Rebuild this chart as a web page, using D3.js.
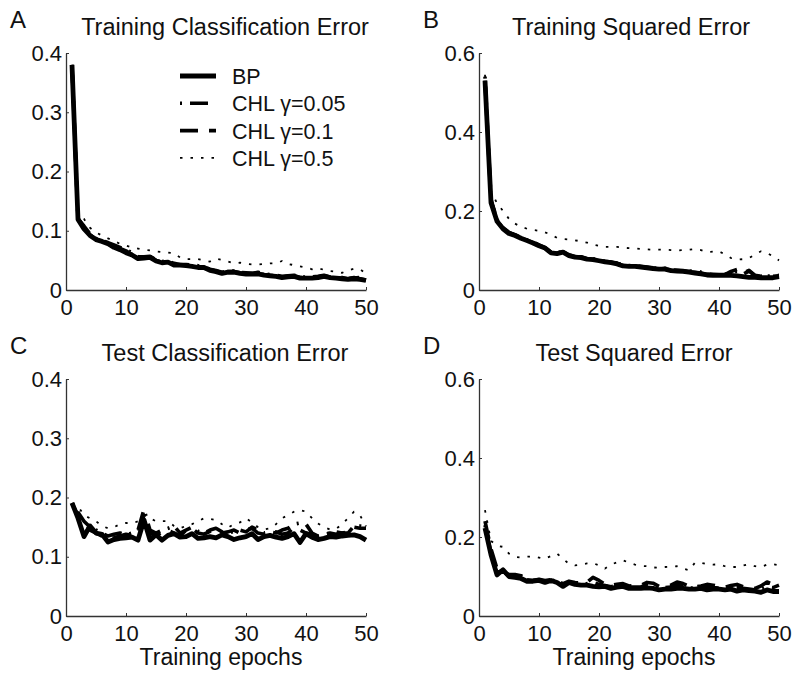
<!DOCTYPE html>
<html>
<head>
<meta charset="utf-8">
<script src="https://cdn.jsdelivr.net/npm/d3@7"></script>
<style>
body { margin: 0; background: #fff; }
svg text { font-family: "Liberation Sans", Arial, sans-serif; fill: #111; }
</style>
</head>
<body>
<svg id="chart" width="793" height="673"></svg>
<script>
let epochs = d3.range(1, 51)
let seriesNames = ["BP", "CHL γ=0.05", "CHL γ=0.1", "CHL γ=0.5"]
let xTicks = [0, 10, 20, 30, 40, 50]
let yTicksCls = [0, 0.1, 0.2, 0.3, 0.4]
let yTicksSq = [0, 0.2, 0.4, 0.6]

// A - training classification error
let trainClsBP = [0.38, 0.119, 0.103, 0.092, 0.085, 0.082, 0.078, 0.072, 0.068, 0.063,
    0.059, 0.053, 0.054, 0.055, 0.049, 0.046, 0.047, 0.042, 0.042, 0.041,
    0.040, 0.038, 0.038, 0.033, 0.031, 0.028, 0.030, 0.030, 0.028, 0.027,
    0.027, 0.027, 0.025, 0.024, 0.023, 0.021, 0.022, 0.023, 0.020, 0.020,
    0.020, 0.021, 0.023, 0.021, 0.020, 0.019, 0.018, 0.019, 0.018, 0.016]
let trainClsG05 = [0.38, 0.120, 0.108, 0.095, 0.087, 0.083, 0.080, 0.076, 0.072, 0.068,
    0.063, 0.056, 0.056, 0.057, 0.051, 0.048, 0.049, 0.045, 0.043, 0.043,
    0.042, 0.041, 0.039, 0.035, 0.033, 0.030, 0.032, 0.032, 0.030, 0.029,
    0.028, 0.030, 0.027, 0.026, 0.025, 0.023, 0.024, 0.025, 0.022, 0.022,
    0.022, 0.023, 0.025, 0.022, 0.021, 0.020, 0.019, 0.021, 0.019, 0.017]
let trainClsG01 = [0.38, 0.121, 0.106, 0.093, 0.086, 0.082, 0.079, 0.074, 0.070, 0.066,
    0.060, 0.055, 0.055, 0.056, 0.050, 0.047, 0.048, 0.043, 0.042, 0.042,
    0.041, 0.039, 0.038, 0.034, 0.032, 0.029, 0.031, 0.031, 0.029, 0.028,
    0.028, 0.028, 0.026, 0.025, 0.024, 0.022, 0.023, 0.024, 0.021, 0.021,
    0.021, 0.022, 0.024, 0.021, 0.020, 0.021, 0.019, 0.020, 0.021, 0.016]
let trainClsG5 = [0.38, 0.125, 0.120, 0.105, 0.097, 0.092, 0.087, 0.083, 0.078, 0.075,
    0.072, 0.070, 0.068, 0.067, 0.065, 0.064, 0.063, 0.062, 0.055, 0.052,
    0.052, 0.052, 0.050, 0.048, 0.053, 0.051, 0.048, 0.045, 0.046, 0.044,
    0.043, 0.043, 0.044, 0.045, 0.045, 0.049, 0.044, 0.042, 0.040, 0.038,
    0.035, 0.037, 0.034, 0.032, 0.031, 0.029, 0.033, 0.036, 0.035, 0.028]

// B - training squared error
let trainSqBP = [0.53, 0.221, 0.174, 0.155, 0.143, 0.138, 0.131, 0.125, 0.119, 0.112,
    0.106, 0.094, 0.092, 0.096, 0.087, 0.083, 0.082, 0.078, 0.077, 0.074,
    0.071, 0.069, 0.066, 0.061, 0.060, 0.060, 0.058, 0.056, 0.054, 0.053,
    0.053, 0.049, 0.048, 0.047, 0.045, 0.043, 0.041, 0.038, 0.037, 0.037,
    0.037, 0.037, 0.036, 0.034, 0.032, 0.032, 0.031, 0.031, 0.031, 0.034]
let trainSqG05 = [0.54, 0.230, 0.178, 0.158, 0.146, 0.140, 0.133, 0.127, 0.121, 0.114,
    0.108, 0.096, 0.094, 0.098, 0.089, 0.085, 0.084, 0.080, 0.079, 0.076,
    0.073, 0.071, 0.068, 0.063, 0.062, 0.062, 0.060, 0.058, 0.056, 0.055,
    0.055, 0.051, 0.050, 0.049, 0.047, 0.050, 0.045, 0.041, 0.040, 0.039,
    0.040, 0.044, 0.047, 0.040, 0.048, 0.036, 0.034, 0.035, 0.036, 0.037]
let trainSqG01 = [0.53, 0.225, 0.176, 0.156, 0.145, 0.139, 0.132, 0.126, 0.120, 0.113,
    0.107, 0.095, 0.093, 0.097, 0.088, 0.084, 0.083, 0.079, 0.078, 0.075,
    0.072, 0.070, 0.067, 0.062, 0.061, 0.061, 0.059, 0.057, 0.055, 0.054,
    0.054, 0.050, 0.049, 0.048, 0.046, 0.045, 0.043, 0.040, 0.039, 0.038,
    0.039, 0.047, 0.052, 0.042, 0.050, 0.037, 0.035, 0.036, 0.035, 0.036]
let trainSqG5 = [0.545, 0.250, 0.220, 0.200, 0.180, 0.168, 0.160, 0.155, 0.152, 0.150,
    0.146, 0.140, 0.132, 0.129, 0.128, 0.126, 0.123, 0.120, 0.115, 0.112,
    0.109, 0.109, 0.109, 0.107, 0.106, 0.105, 0.104, 0.103, 0.102, 0.102,
    0.102, 0.101, 0.100, 0.101, 0.102, 0.104, 0.101, 0.096, 0.097, 0.098,
    0.090, 0.081, 0.077, 0.078, 0.081, 0.090, 0.098, 0.094, 0.085, 0.075]

// C - test classification error
let testClsBP = [0.191, 0.165, 0.134, 0.152, 0.140, 0.138, 0.125, 0.129, 0.131, 0.132,
    0.133, 0.128, 0.162, 0.128, 0.137, 0.128, 0.136, 0.139, 0.133, 0.134,
    0.139, 0.131, 0.132, 0.134, 0.132, 0.137, 0.134, 0.129, 0.132, 0.134,
    0.139, 0.129, 0.134, 0.136, 0.133, 0.131, 0.134, 0.139, 0.124, 0.139,
    0.133, 0.129, 0.131, 0.134, 0.133, 0.135, 0.136, 0.137, 0.134, 0.128]
let testClsG05 = [0.19, 0.175, 0.160, 0.150, 0.145, 0.140, 0.135, 0.138, 0.140, 0.137,
    0.140, 0.145, 0.180, 0.145, 0.140, 0.145, 0.148, 0.152, 0.140, 0.145,
    0.150, 0.143, 0.140, 0.145, 0.148, 0.142, 0.140, 0.143, 0.145, 0.142,
    0.150, 0.145, 0.140, 0.142, 0.140, 0.145, 0.148, 0.155, 0.157, 0.155,
    0.140, 0.135, 0.137, 0.140, 0.142, 0.140, 0.140, 0.152, 0.152, 0.150]
let testClsG01 = [0.19, 0.170, 0.150, 0.145, 0.140, 0.135, 0.130, 0.132, 0.135, 0.138,
    0.136, 0.140, 0.170, 0.140, 0.135, 0.142, 0.145, 0.140, 0.135, 0.145,
    0.148, 0.140, 0.138, 0.143, 0.145, 0.140, 0.142, 0.145, 0.140, 0.145,
    0.148, 0.140, 0.138, 0.140, 0.142, 0.138, 0.140, 0.150, 0.145, 0.140,
    0.138, 0.133, 0.138, 0.140, 0.138, 0.140, 0.142, 0.150, 0.148, 0.148]
let testClsG5 = [0.19, 0.185, 0.170, 0.165, 0.160, 0.152, 0.148, 0.150, 0.155, 0.157,
    0.156, 0.160, 0.170, 0.165, 0.160, 0.160, 0.160, 0.152, 0.148, 0.152,
    0.155, 0.160, 0.165, 0.164, 0.162, 0.155, 0.149, 0.155, 0.158, 0.165,
    0.158, 0.150, 0.146, 0.148, 0.155, 0.165, 0.170, 0.176, 0.179, 0.176,
    0.165, 0.156, 0.150, 0.146, 0.147, 0.155, 0.165, 0.176, 0.170, 0.151]

// D - test squared error
let testSqBP = [0.223, 0.155, 0.104, 0.117, 0.100, 0.098, 0.095, 0.088, 0.088, 0.090,
    0.085, 0.090, 0.085, 0.075, 0.085, 0.080, 0.078, 0.078, 0.075, 0.074,
    0.075, 0.070, 0.073, 0.075, 0.070, 0.070, 0.070, 0.071, 0.070, 0.066,
    0.068, 0.068, 0.070, 0.070, 0.068, 0.068, 0.070, 0.066, 0.068, 0.068,
    0.066, 0.068, 0.063, 0.066, 0.064, 0.063, 0.060, 0.066, 0.062, 0.062]
let testSqG05 = [0.23, 0.160, 0.110, 0.115, 0.100, 0.100, 0.097, 0.092, 0.090, 0.092,
    0.088, 0.092, 0.087, 0.078, 0.087, 0.082, 0.080, 0.082, 0.085, 0.080,
    0.077, 0.074, 0.077, 0.080, 0.073, 0.073, 0.074, 0.078, 0.076, 0.070,
    0.072, 0.073, 0.078, 0.075, 0.071, 0.071, 0.073, 0.073, 0.072, 0.071,
    0.070, 0.072, 0.072, 0.070, 0.068, 0.066, 0.068, 0.074, 0.072, 0.078]
let testSqG01 = [0.24, 0.170, 0.120, 0.110, 0.105, 0.105, 0.102, 0.095, 0.090, 0.093,
    0.090, 0.092, 0.088, 0.082, 0.088, 0.085, 0.083, 0.085, 0.098, 0.090,
    0.080, 0.078, 0.080, 0.082, 0.076, 0.077, 0.078, 0.085, 0.083, 0.075,
    0.076, 0.078, 0.086, 0.082, 0.075, 0.074, 0.076, 0.080, 0.078, 0.075,
    0.073, 0.077, 0.080, 0.074, 0.072, 0.070, 0.076, 0.086, 0.080, 0.078]
let testSqG5 = [0.268, 0.190, 0.178, 0.175, 0.158, 0.150, 0.148, 0.150, 0.151, 0.148,
    0.145, 0.152, 0.158, 0.145, 0.132, 0.128, 0.130, 0.133, 0.134, 0.128,
    0.120, 0.130, 0.136, 0.141, 0.135, 0.130, 0.127, 0.126, 0.123, 0.122,
    0.124, 0.125, 0.126, 0.120, 0.116, 0.135, 0.135, 0.131, 0.130, 0.131,
    0.126, 0.124, 0.124, 0.128, 0.131, 0.126, 0.124, 0.130, 0.131, 0.128]

// line styles in series order: BP, 0.05, 0.1, 0.5
let lineStyles = [
    { width: 4.8, dash: null },
    { width: 3.6, dash: "2,8,18,8" },
    { width: 3.6, dash: "18,11" },
    { width: 1.8, dash: "2.5,8" }
]

let panels = [
    { letter: "A", title: "Training Classification Error", series: [trainClsBP, trainClsG05, trainClsG01, trainClsG5],
      yMax: 0.4, yTicks: yTicksCls, left: 66, top: 53, bottom: 290, titleX: 225, xlabel: false, legend: true },
    { letter: "B", title: "Training Squared Error", series: [trainSqBP, trainSqG05, trainSqG01, trainSqG5],
      yMax: 0.6, yTicks: yTicksSq, left: 479, top: 53, bottom: 290, titleX: 631, xlabel: false, legend: false },
    { letter: "C", title: "Test Classification Error", series: [testClsBP, testClsG05, testClsG01, testClsG5],
      yMax: 0.4, yTicks: yTicksCls, left: 66, top: 379, bottom: 616, titleX: 225, xlabel: true, legend: false },
    { letter: "D", title: "Test Squared Error", series: [testSqBP, testSqG05, testSqG01, testSqG5],
      yMax: 0.6, yTicks: yTicksSq, left: 479, top: 379, bottom: 616, titleX: 634, xlabel: true, legend: false }
]

let svg = d3.select("#chart")

panels.forEach(function(p) {
    let g = svg.append("g")

    let xScale = d3.scaleLinear()
        .domain([0, 50])
        .range([p.left, p.left + 300])
    let yScale = d3.scaleLinear()
        .domain([0, p.yMax])
        .range([p.bottom, p.top])

    g.append("g")
        .attr("transform", "translate(0," + p.bottom + ")")
        .call(d3.axisBottom(xScale)
            .tickValues(xTicks)
            .tickSizeInner(-3)
            .tickSizeOuter(0)
            .tickPadding(9))
    g.append("g")
        .attr("transform", "translate(" + p.left + ",0)")
        .call(d3.axisLeft(yScale)
            .tickValues(p.yTicks)
            .tickFormat(d3.format("~g"))
            .tickSizeInner(-3)
            .tickSizeOuter(0)
            .tickPadding(4))

    g.selectAll(".domain").attr("stroke", "#333").attr("stroke-width", 1.3)
    g.selectAll(".tick line").attr("stroke", "#333")
    g.selectAll(".tick text")
        .attr("font-size", "22px")
        .attr("font-family", "Liberation Sans, Arial, sans-serif")
        .attr("fill", "#111")

    let valueline = d3.line()
        .x((d, i) => xScale(epochs[i]))
        .y(d => yScale(d))

    p.series.forEach(function(s, k) {
        g.append("path")
            .datum(s)
            .attr("d", valueline)
            .attr("fill", "none")
            .attr("stroke", "#000")
            .attr("stroke-width", lineStyles[k].width)
            .attr("stroke-linejoin", "round")
            .attr("stroke-dasharray", lineStyles[k].dash)
    })

    g.append("text")
        .attr("x", p.titleX)
        .attr("y", p.top - 18)
        .attr("text-anchor", "middle")
        .attr("font-size", "23.5px")
        .text(p.title)

    g.append("text")
        .attr("x", p.left - 56)
        .attr("y", p.top - 25)
        .attr("font-size", "24px")
        .text(p.letter)

    if (p.xlabel) {
        g.append("text")
            .attr("x", p.left + 155)
            .attr("y", p.bottom + 49)
            .attr("text-anchor", "middle")
            .attr("font-size", "23px")
            .text("Training epochs")
    }

    if (p.legend) {
        let leg = g.append("g")
            .attr("transform", "translate(180,76)")
        seriesNames.forEach(function(name, k) {
            let row = leg.append("g")
                .attr("transform", "translate(0," + (k * 27.3) + ")")
            row.append("line")
                .attr("x1", 0)
                .attr("x2", 36)
                .attr("stroke", "#000")
                .attr("stroke-width", lineStyles[k].width)
                .attr("stroke-dasharray", lineStyles[k].dash)
            row.append("text")
                .attr("x", 52)
                .attr("y", 8)
                .attr("font-size", "21.5px")
                .text(name)
        })
    }
})
</script>
</body>
</html>
